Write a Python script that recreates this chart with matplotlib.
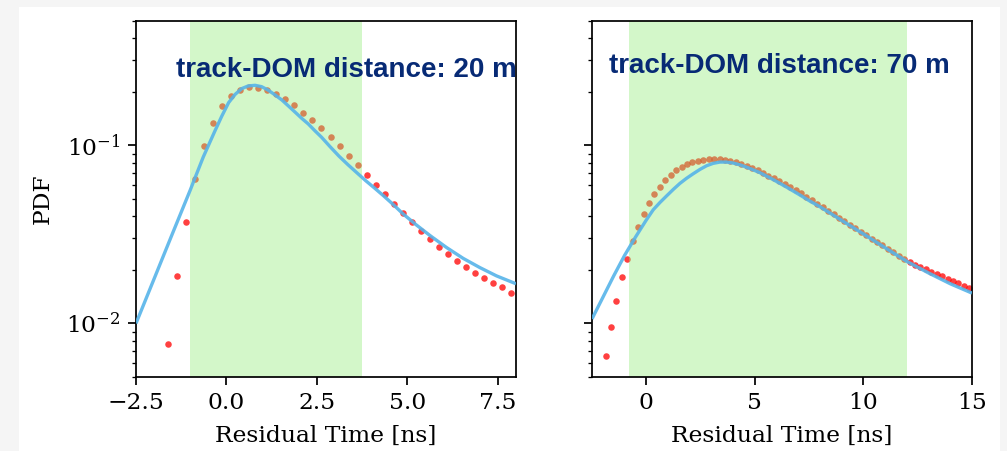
import matplotlib
matplotlib.use("Agg")
import matplotlib.pyplot as plt
from matplotlib.patches import Rectangle

# ---- data -------------------------------------------------------------
# 20 m: histogram bin centres and PDF values
t20 = [-1.625, -1.375, -1.125, -0.875, -0.625, -0.375, -0.125, 0.125, 0.375,
       0.625, 0.875, 1.125, 1.375, 1.625, 1.875, 2.125, 2.375, 2.625, 2.875,
       3.125, 3.375, 3.625, 3.875, 4.125, 4.375, 4.625, 4.875, 5.125, 5.375,
       5.625, 5.875, 6.125, 6.375, 6.625, 6.875, 7.125, 7.375, 7.625, 7.875]
pdf20 = [0.0077, 0.0184, 0.037, 0.0646, 0.0987, 0.134, 0.166, 0.190, 0.206,
         0.212, 0.210, 0.205, 0.195, 0.183, 0.168, 0.153, 0.139, 0.125, 0.111,
         0.0987, 0.0875, 0.0772, 0.0678, 0.0598, 0.0530, 0.0468, 0.0416,
         0.0370, 0.0332, 0.0297, 0.0269, 0.0245, 0.0224, 0.0207, 0.0192,
         0.0179, 0.0169, 0.0160, 0.0149]

# 20 m: model curve
tm20 = [-2.5, -2.0, -1.5, -1.0, -0.89, -0.64, -0.32, -0.13, 0.06, 0.24, 0.42,
        0.60, 0.79, 0.97, 1.16, 1.34, 1.53, 1.71, 1.89, 2.08, 2.26, 2.45,
        2.63, 2.86, 3.11, 3.36, 3.61, 3.85, 4.10, 4.35, 4.62, 4.87, 5.25,
        5.63, 6.08, 6.54, 7.0, 7.46, 8.0]
model20 = [0.0100, 0.0178, 0.0317, 0.0562, 0.0641, 0.0862, 0.1205, 0.146,
           0.174, 0.1936, 0.2085, 0.2159, 0.2176, 0.2139, 0.204, 0.1923,
           0.180, 0.1667, 0.1542, 0.1419, 0.132, 0.1205, 0.111, 0.0985,
           0.0870, 0.0778, 0.0700, 0.0633, 0.0574, 0.0519, 0.0463, 0.0414,
           0.0357, 0.0311, 0.0267, 0.0232, 0.0206, 0.0185, 0.0167]

# 70 m: histogram bin centres and PDF values
t70 = [-1.875, -1.625, -1.375, -1.125, -0.875, -0.625, -0.375, -0.125, 0.125,
       0.375, 0.625, 0.875, 1.125, 1.375, 1.625, 1.875, 2.125, 2.375, 2.625,
       2.875, 3.125, 3.375, 3.625, 3.875, 4.125, 4.375, 4.625, 4.875, 5.125,
       5.375, 5.625, 5.875, 6.125, 6.375, 6.625, 6.875, 7.125, 7.375, 7.625,
       7.875, 8.125, 8.375, 8.625, 8.875, 9.125, 9.375, 9.625, 9.875, 10.125,
       10.375, 10.625, 10.875, 11.125, 11.375, 11.625, 11.875, 12.125, 12.375,
       12.625, 12.875, 13.125, 13.375, 13.625, 13.875, 14.125, 14.375, 14.625,
       14.875]
pdf70 = [0.00653, 0.00955, 0.0134, 0.0182, 0.0231, 0.0290, 0.0349, 0.0413,
         0.0472, 0.0532, 0.0586, 0.0638, 0.0684, 0.0723, 0.0755, 0.0782,
         0.0802, 0.0820, 0.0831, 0.0838, 0.0838, 0.0834, 0.0827, 0.0817,
         0.0802, 0.0785, 0.0765, 0.0746, 0.0723, 0.0699, 0.0675, 0.0652,
         0.0630, 0.0606, 0.0583, 0.0561, 0.0537, 0.0514, 0.0491, 0.0470,
         0.0449, 0.0429, 0.0410, 0.0392, 0.0375, 0.0358, 0.0343, 0.0328,
         0.0313, 0.0299, 0.0286, 0.0274, 0.0262, 0.0251, 0.0240, 0.0231,
         0.0222, 0.0214, 0.0207, 0.0201, 0.0195, 0.0189, 0.0184, 0.0178,
         0.0173, 0.0168, 0.0163, 0.0158]

# 70 m: model curve
tm70 = [-2.5, -2.0, -1.5, -1.0, -0.5, 0.0, 0.32, 0.63, 0.94, 1.25, 1.55, 1.85,
        2.16, 2.47, 2.78, 3.08, 3.39, 3.70, 4.00, 4.31, 4.77, 5.23, 5.84,
        6.46, 7.07, 7.53, 8.0, 9.0, 10.0, 11.0, 12.0, 13.0, 14.0, 15.0]
model70 = [0.0106, 0.0140, 0.0185, 0.0241, 0.0305, 0.0381, 0.0435, 0.0478,
           0.0521, 0.0567, 0.0612, 0.0653, 0.0693, 0.0733, 0.0769, 0.0793,
           0.0806, 0.0806, 0.0796, 0.0778, 0.0742, 0.0703, 0.0643, 0.0583,
           0.0527, 0.0487, 0.0452, 0.0379, 0.0318, 0.0266, 0.0223, 0.0192,
           0.0167, 0.0148]

# time windows and axis ranges
window20 = (-1.0, 3.75)
window70 = (-0.8, 12.0)
xlim20 = (-2.5, 8.0)
xlim70 = (-2.5, 15.0)
xticks20 = [-2.5, 0.0, 2.5, 5.0, 7.5]
xticks70 = [0, 5, 10, 15]
titles = ["track-DOM distance: 20 m", "track-DOM distance: 70 m"]

# ---- style ------------------------------------------------------------
s = 1.57
plt.rcParams.update({
    "font.family": "DejaVu Serif",
    "mathtext.fontset": "dejavuserif",
    "font.size": 16.8,
    "axes.linewidth": 0.8 * s,
    "xtick.major.size": 3.5 * s,
    "ytick.major.size": 3.5 * s,
    "xtick.minor.size": 2 * s,
    "ytick.minor.size": 2 * s,
    "xtick.major.width": 0.8 * s,
    "ytick.major.width": 0.8 * s,
    "xtick.minor.width": 0.6 * s,
    "ytick.minor.width": 0.6 * s,
    "xtick.major.pad": 3.5 * s,
    "ytick.major.pad": 3.5 * s,
    "axes.labelpad": 7.5,
})

W, H = 1007, 451
fig = plt.figure(figsize=(W / 100, H / 100), dpi=100, facecolor="#f5f5f5")
fig.patches.append(Rectangle((19 / W, 0), 981 / W, 444 / H,
                             transform=fig.transFigure, facecolor="white",
                             edgecolor="none", zorder=-10))

axL = fig.add_axes([136 / W, 74 / H, 380 / W, 356 / H])
axR = fig.add_axes([592 / W, 74 / H, 380 / W, 356 / H], sharey=axL)

dot_color = "red"
span_color = (145 / 255, 237 / 255, 120 / 255)
line_color = "#56B4E9"

panels = [
    (axL, t20, pdf20, tm20, model20, window20, xlim20, xticks20),
    (axR, t70, pdf70, tm70, model70, window70, xlim70, xticks70),
]
for ax, td, pd, tm, md, win, xl, xt in panels:
    ax.set_yscale("log")
    ax.plot(td, pd, "o", color=dot_color, alpha=0.75, ms=4.7, mec="none",
            zorder=1)
    ax.axvspan(win[0], win[1], color=span_color, alpha=0.4, lw=0, zorder=2)
    ax.plot(tm, md, color=line_color, lw=2.4, alpha=0.9, zorder=3,
            solid_capstyle="butt", solid_joinstyle="round")
    ax.set_xlim(*xl)
    ax.set_xticks(xt)
    ax.set_xlabel("Residual Time [ns]")

axL.set_ylim(0.005, 0.5)
axL.set_ylabel("PDF", labelpad=9)
axR.tick_params(labelleft=False)

text_kw = dict(fontfamily="Liberation Sans", fontweight="bold", fontsize=20,
               color="#072a75", va="baseline", ha="left")
fig.text(175.7 / W, 1 - 77.3 / H, titles[0], **text_kw)
fig.text(608.7 / W, 1 - 72.7 / H, titles[1], **text_kw)

fig.savefig("out.png", dpi=100, facecolor=fig.get_facecolor())
